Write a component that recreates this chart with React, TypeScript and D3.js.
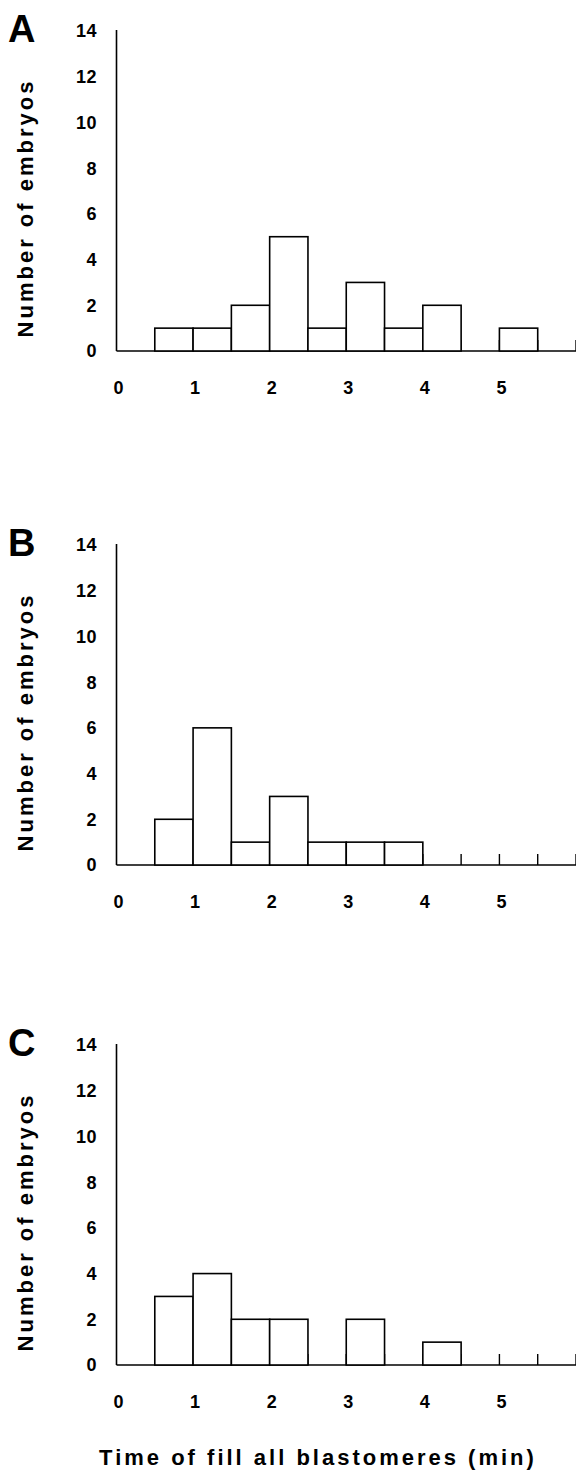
import React from 'react'
import * as d3 from 'd3'

// bins of 0.5 min, from 0 to 6 min
const binStarts = [0, 0.5, 1, 1.5, 2, 2.5, 3, 3.5, 4, 4.5, 5, 5.5]
const countsA = [0, 1, 1, 2, 5, 1, 3, 1, 2, 0, 1, 0]
const countsB = [0, 2, 6, 1, 3, 1, 1, 1, 0, 0, 0, 0]
const countsC = [0, 3, 4, 2, 2, 0, 2, 0, 1, 0, 0, 0]
const panelLetters = ['A', 'B', 'C']
const yTicks = [0, 2, 4, 6, 8, 10, 12, 14]
const xTicks = [0, 1, 2, 3, 4, 5]
const yTitle = 'Number of embryos'
const xTitle = 'Time of fill all blastomeres (min)'

const W = 576
const H = 1471
const font = '"Liberation Sans", Arial, Helvetica, sans-serif'
const binW = 0.5

function Panel({ counts, letter, base }: { counts: number[]; letter: string; base: number }) {
  const x = d3.scaleLinear().domain([0, 6]).range([116.5, 576])
  const y = d3.scaleLinear().domain([0, 14]).range([base, base - 320])
  const tickSteps = d3.range(0.5, 6.01, 0.5)

  return (
    <g>
      <text x={8} y={base - 309} fontFamily={font} fontWeight="bold" fontSize={38}>
        {letter}
      </text>
      <text
        transform={`translate(33,${base - 143}) rotate(-90)`}
        textAnchor="middle"
        fontFamily={font}
        fontWeight="bold"
        fontSize={22}
        letterSpacing={3}
      >
        {yTitle}
      </text>
      {/* y axis */}
      <line x1={x(0)} x2={x(0)} y1={y(0)} y2={y(14) - 1} stroke="#000" strokeWidth={1.6} />
      {yTicks.map((t) => (
        <text
          key={t}
          x={97}
          y={y(t)}
          dy="0.36em"
          textAnchor="end"
          fontFamily={font}
          fontWeight="bold"
          fontSize={18}
          letterSpacing={0.5}
        >
          {t}
        </text>
      ))}
      {/* baseline + inward ticks */}
      <line x1={x(0)} x2={x(6)} y1={y(0)} y2={y(0)} stroke="#000" strokeWidth={1.6} />
      {tickSteps.map((t) => (
        <line key={t} x1={x(t)} x2={x(t)} y1={y(0)} y2={y(0) - 11} stroke="#000" strokeWidth={1.4} />
      ))}
      {/* bars */}
      {binStarts.map((s, i) =>
        counts[i] > 0 ? (
          <rect
            key={s}
            x={x(s)}
            y={y(counts[i])}
            width={x(s + binW) - x(s)}
            height={y(0) - y(counts[i])}
            fill="#fff"
            stroke="#000"
            strokeWidth={1.6}
          />
        ) : null
      )}
      {xTicks.map((t) => (
        <text
          key={t}
          x={x(t) + 2}
          y={base + 37}
          dy="0.36em"
          textAnchor="middle"
          fontFamily={font}
          fontWeight="bold"
          fontSize={18}
        >
          {t}
        </text>
      ))}
    </g>
  )
}

export default function App() {
  const all = [countsA, countsB, countsC]
  const bases = [351, 865, 1365]
  return (
    <svg
      width={W}
      height={H}
      style={{ position: 'absolute', left: 0, top: 0, background: '#fff' }}
    >
      <rect width={W} height={H} fill="#fff" />
      {all.map((c, i) => (
        <Panel key={i} counts={c} letter={panelLetters[i]} base={bases[i]} />
      ))}
      <text
        x={318}
        y={1457}
        dy="0.36em"
        textAnchor="middle"
        fontFamily={font}
        fontWeight="bold"
        fontSize={22}
        letterSpacing={3}
      >
        {xTitle}
      </text>
    </svg>
  )
}
